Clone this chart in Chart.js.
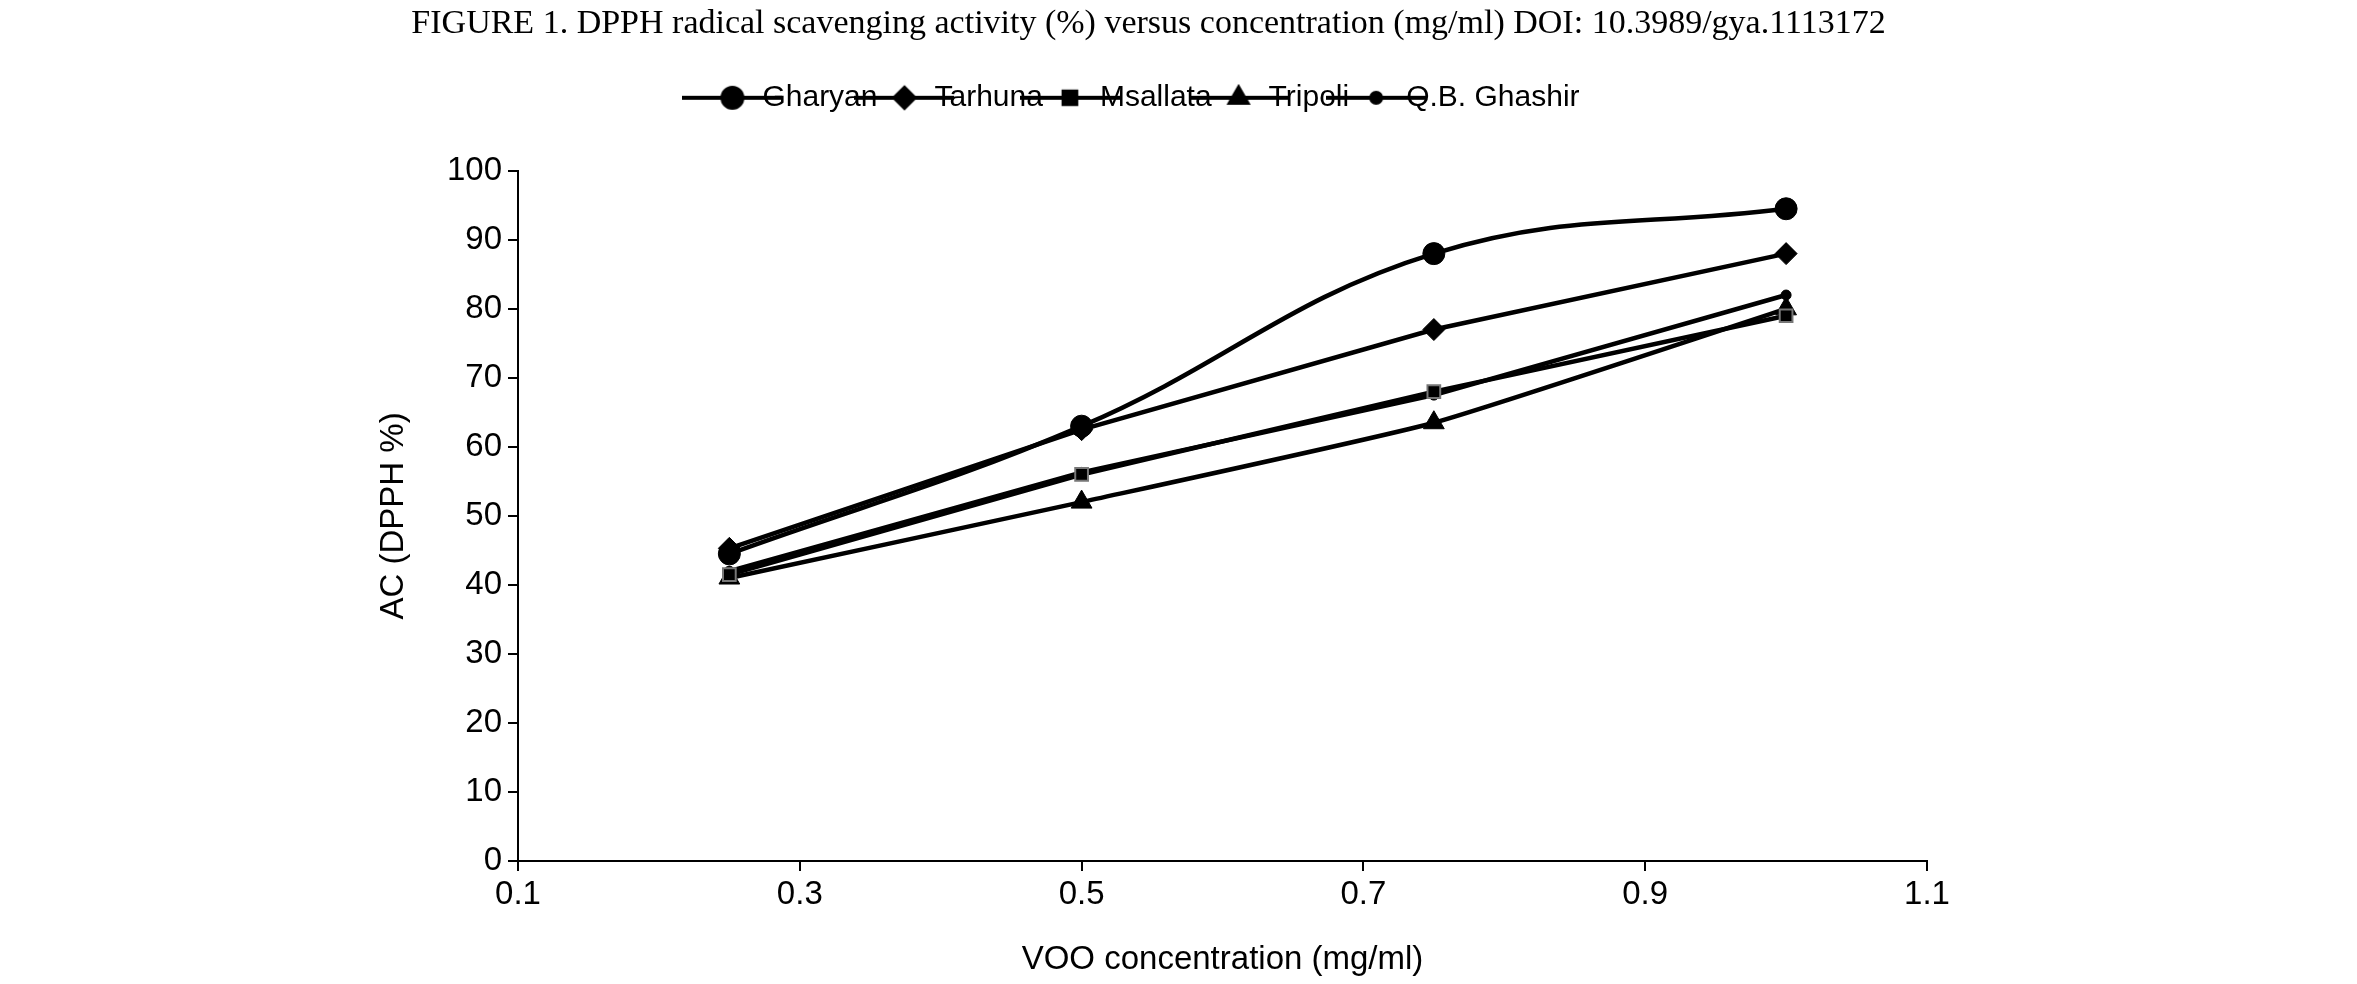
<!DOCTYPE html>
<html><head><meta charset="utf-8">
<script src="https://cdn.jsdelivr.net/npm/chart.js@4/dist/chart.umd.min.js"></script>
<style>html,body{margin:0;padding:0;background:#fff}#w{width:2357px;height:984px}</style>
</head><body><div id="w"><canvas id="c"></canvas></div>
<script>
const xValues = [0.25, 0.5, 0.75, 1.0];
const gharyan = [44.5, 63, 88, 94.5];
const tarhuna = [45.3, 62.5, 77, 88];
const msallata = [41.5, 56, 68, 79];
const tripoli = [41, 52, 63.5, 80];
const qbGhashir = [42, 56.3, 67.5, 82];
const xTicks = [0.1, 0.3, 0.5, 0.7, 0.9, 1.1];

function pts(v){return xValues.map((x,i)=>({x:x,y:v[i]}));}
function legendIcon(style,r){
  const c=document.createElement('canvas');c.width=100;c.height=28;
  const g=c.getContext('2d');
  g.strokeStyle='#000';g.lineWidth=4;g.beginPath();g.moveTo(0,14);g.lineTo(100,14);g.stroke();
  Chart.helpers.drawPoint(g,{pointStyle:style,radius:r,borderWidth:style==='rect'?2:1},50,14);
  return c;
}
function ds(label,v,style,r,tension){
  return {label,data:pts(v),borderColor:'#000',backgroundColor:'#000',borderWidth:4.5,
    pointStyle:style,pointRadius:r,pointHoverRadius:r,tension:tension,
    pointBorderColor: style==='rect'?'#777':'#000',pointBorderWidth: style==='rect'?2:1,
    _icon:legendIcon(style,Math.min(r,10))};
}
Chart.defaults.font.family = "'Liberation Sans', Arial, sans-serif";
Chart.defaults.color = '#000';
const legendGap={id:'legendGap',afterInit(chart){const L=chart.legend;const f=L.fit;L.fit=function(){f.call(this);this.height+=48;};}};
new Chart(document.getElementById('c'),{
  type:'line',
  data:{datasets:[
    ds('Gharyan',gharyan,'circle',11,0.4),
    ds('Tarhuna',tarhuna,'rectRot',11,0),
    ds('Msallata',msallata,'rect',9,0),
    ds('Tripoli',tripoli,'triangle',12,0.15),
    ds('Q.B. Ghashir',qbGhashir,'circle',5,0)
  ]},
  plugins:[legendGap],
  options:{responsive:true,maintainAspectRatio:false,animation:false,
    layout:{padding:{left:370,right:430,top:4,bottom:0}},
    plugins:{
      title:{display:true,text:'FIGURE 1. DPPH radical scavenging activity (%) versus concentration (mg/ml) DOI: 10.3989/gya.1113172',
        font:{family:"'Liberation Serif', 'Times New Roman', serif",size:34,weight:'normal'},padding:{top:0,bottom:26}},
      legend:{labels:{usePointStyle:true,font:{size:30},padding:12,
        generateLabels:ch=>ch.data.datasets.map((d,i)=>({text:d.label,pointStyle:d._icon,fillStyle:'#000',strokeStyle:'#000',lineWidth:0,datasetIndex:i,hidden:false}))}},
      tooltip:{enabled:false}
    },
    scales:{
      x:{type:'linear',min:0.1,max:1.1,
        afterBuildTicks:s=>{s.ticks=xTicks.map(v=>({value:v}));},
        ticks:{font:{size:33},padding:4,callback:v=>String(v)},
        grid:{drawOnChartArea:false,drawTicks:true,tickLength:10,color:'#000',lineWidth:2},
        border:{color:'#000',width:2},
        title:{display:true,text:'VOO concentration (mg/ml)',font:{size:33},padding:{top:14}},
        afterFit:s=>{s.height=123;}
      },
      y:{min:0,max:100,
        ticks:{stepSize:10,font:{size:33},padding:6},
        grid:{drawOnChartArea:false,drawTicks:true,tickLength:10,color:'#000',lineWidth:2},
        border:{color:'#000',width:2},
        title:{display:true,text:'AC (DPPH %)',font:{size:33},padding:{bottom:20}},
        afterFit:s=>{s.width=148;}
      }
    }
  }
});
</script></body></html>
